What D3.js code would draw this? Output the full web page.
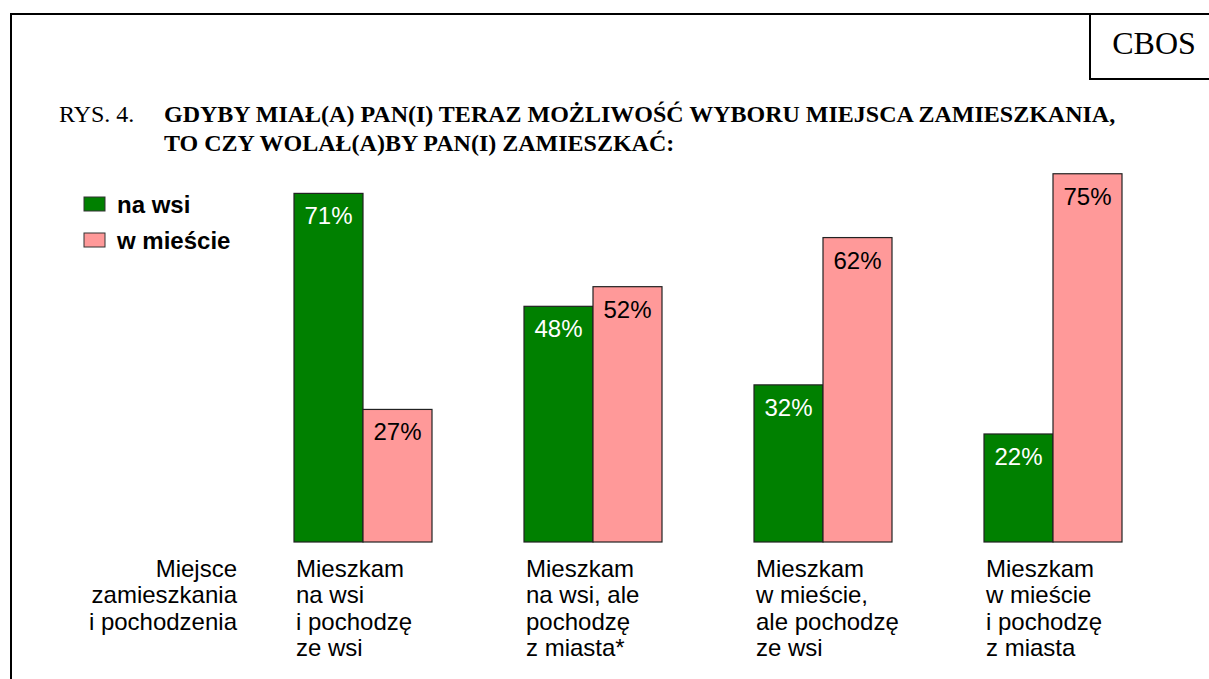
<!DOCTYPE html>
<html>
<head>
<meta charset="utf-8">
<script src="https://cdn.jsdelivr.net/npm/d3@7"></script>
<style>
  body { margin: 0; background: #fff; }
  svg { display: block; }
</style>
</head>
<body>
<svg id="chart" width="1209" height="679"></svg>
<script>
// Data
const categories = ["g1", "g2", "g3", "g4"];
const categoryLabels = [
  ["Mieszkam", "na wsi", "i pochodzę", "ze wsi"],
  ["Mieszkam", "na wsi, ale", "pochodzę", "z miasta*"],
  ["Mieszkam", "w mieście,", "ale pochodzę", "ze wsi"],
  ["Mieszkam", "w mieście", "i pochodzę", "z miasta"]
];
const seriesNames = ["na wsi", "w mieście"];
const seriesColors = ["#008000", "#ff9999"];
const labelColors = ["#ffffff", "#000000"];
const naWsi = [71, 48, 32, 22];
const wMiescie = [27, 52, 62, 75];
const axisLabel = ["Miejsce", "zamieszkania", "i pochodzenia"];

const width = 1209;
const height = 679;
const baseY = 542;

const svg = d3.select("#chart");

const x = d3.scaleBand()
  .domain(categories)
  .range([248, 1168])
  .paddingInner(0.4)
  .paddingOuter(0.2);

const xs = d3.scaleBand()
  .domain(seriesNames)
  .range([0, x.bandwidth()]);

const y = d3.scaleLinear()
  .domain([0, 100])
  .range([baseY, baseY - 491]);

// Frame
svg.append("path")
  .attr("d", `M${width},14 H11 V${height}`)
  .attr("fill", "none")
  .attr("stroke", "#000")
  .attr("stroke-width", 2);
svg.append("path")
  .attr("d", `M1090,14 V79 H${width}`)
  .attr("fill", "none")
  .attr("stroke", "#000")
  .attr("stroke-width", 2);
svg.append("text")
  .attr("x", 1154)
  .attr("y", 54)
  .attr("text-anchor", "middle")
  .attr("style", "font-family: 'Liberation Serif', 'Times New Roman', serif; font-size: 32px;")
  .text("CBOS");

// Title
const serif = "font-family: 'Liberation Serif', 'Times New Roman', serif;";
svg.append("text")
  .attr("x", 59)
  .attr("y", 122)
  .attr("style", serif + " font-size: 24px;")
  .text("RYS. 4.");
const title = svg.append("text")
  .attr("style", serif + " font-size: 24px; font-weight: bold;");
title.append("tspan").attr("x", 164).attr("y", 122)
  .text("GDYBY MIAŁ(A) PAN(I) TERAZ MOŻLIWOŚĆ WYBORU MIEJSCA ZAMIESZKANIA,");
title.append("tspan").attr("x", 164).attr("y", 151)
  .text("TO CZY WOLAŁ(A)BY PAN(I) ZAMIESZKAĆ:");

// Legend
const sans = "font-family: 'Liberation Sans', Arial, sans-serif;";
const legend = svg.append("g");
seriesNames.forEach((name, i) => {
  const g = legend.append("g").attr("transform", `translate(84, ${197 + i * 36})`);
  g.append("rect")
    .attr("width", 21)
    .attr("height", 14)
    .attr("fill", seriesColors[i])
    .attr("stroke", "#333")
    .attr("stroke-width", 1);
  g.append("text")
    .attr("x", 33)
    .attr("y", 16)
    .attr("style", sans + " font-size: 24px; font-weight: bold;")
    .text(name);
});

// Bars
const series = [naWsi, wMiescie];
categories.forEach((cat, ci) => {
  const g = svg.append("g").attr("transform", `translate(${x(cat)}, 0)`);
  series.forEach((vals, si) => {
    const v = vals[ci];
    g.append("rect")
      .attr("x", xs(seriesNames[si]))
      .attr("y", y(v))
      .attr("width", xs.bandwidth())
      .attr("height", baseY - y(v))
      .attr("fill", seriesColors[si])
      .attr("stroke", "#222")
      .attr("stroke-width", 1.2);
    g.append("text")
      .attr("x", xs(seriesNames[si]) + xs.bandwidth() / 2)
      .attr("y", y(v) + 31)
      .attr("text-anchor", "middle")
      .attr("fill", labelColors[si])
      .attr("style", sans + " font-size: 24px;")
      .text(v + "%");
  });

  // Category label
  const t = g.append("text")
    .attr("style", sans + " font-size: 24px;")
    .attr("fill", "#000");
  categoryLabels[ci].forEach((line, li) => {
    t.append("tspan")
      .attr("x", 2)
      .attr("y", 577 + li * 26.4)
      .text(line);
  });
});

// Axis label on the left
const al = svg.append("text")
  .attr("text-anchor", "end")
  .attr("style", sans + " font-size: 24px;");
axisLabel.forEach((line, li) => {
  al.append("tspan")
    .attr("x", 237)
    .attr("y", 577 + li * 26.4)
    .text(line);
});
</script>
</body>
</html>
